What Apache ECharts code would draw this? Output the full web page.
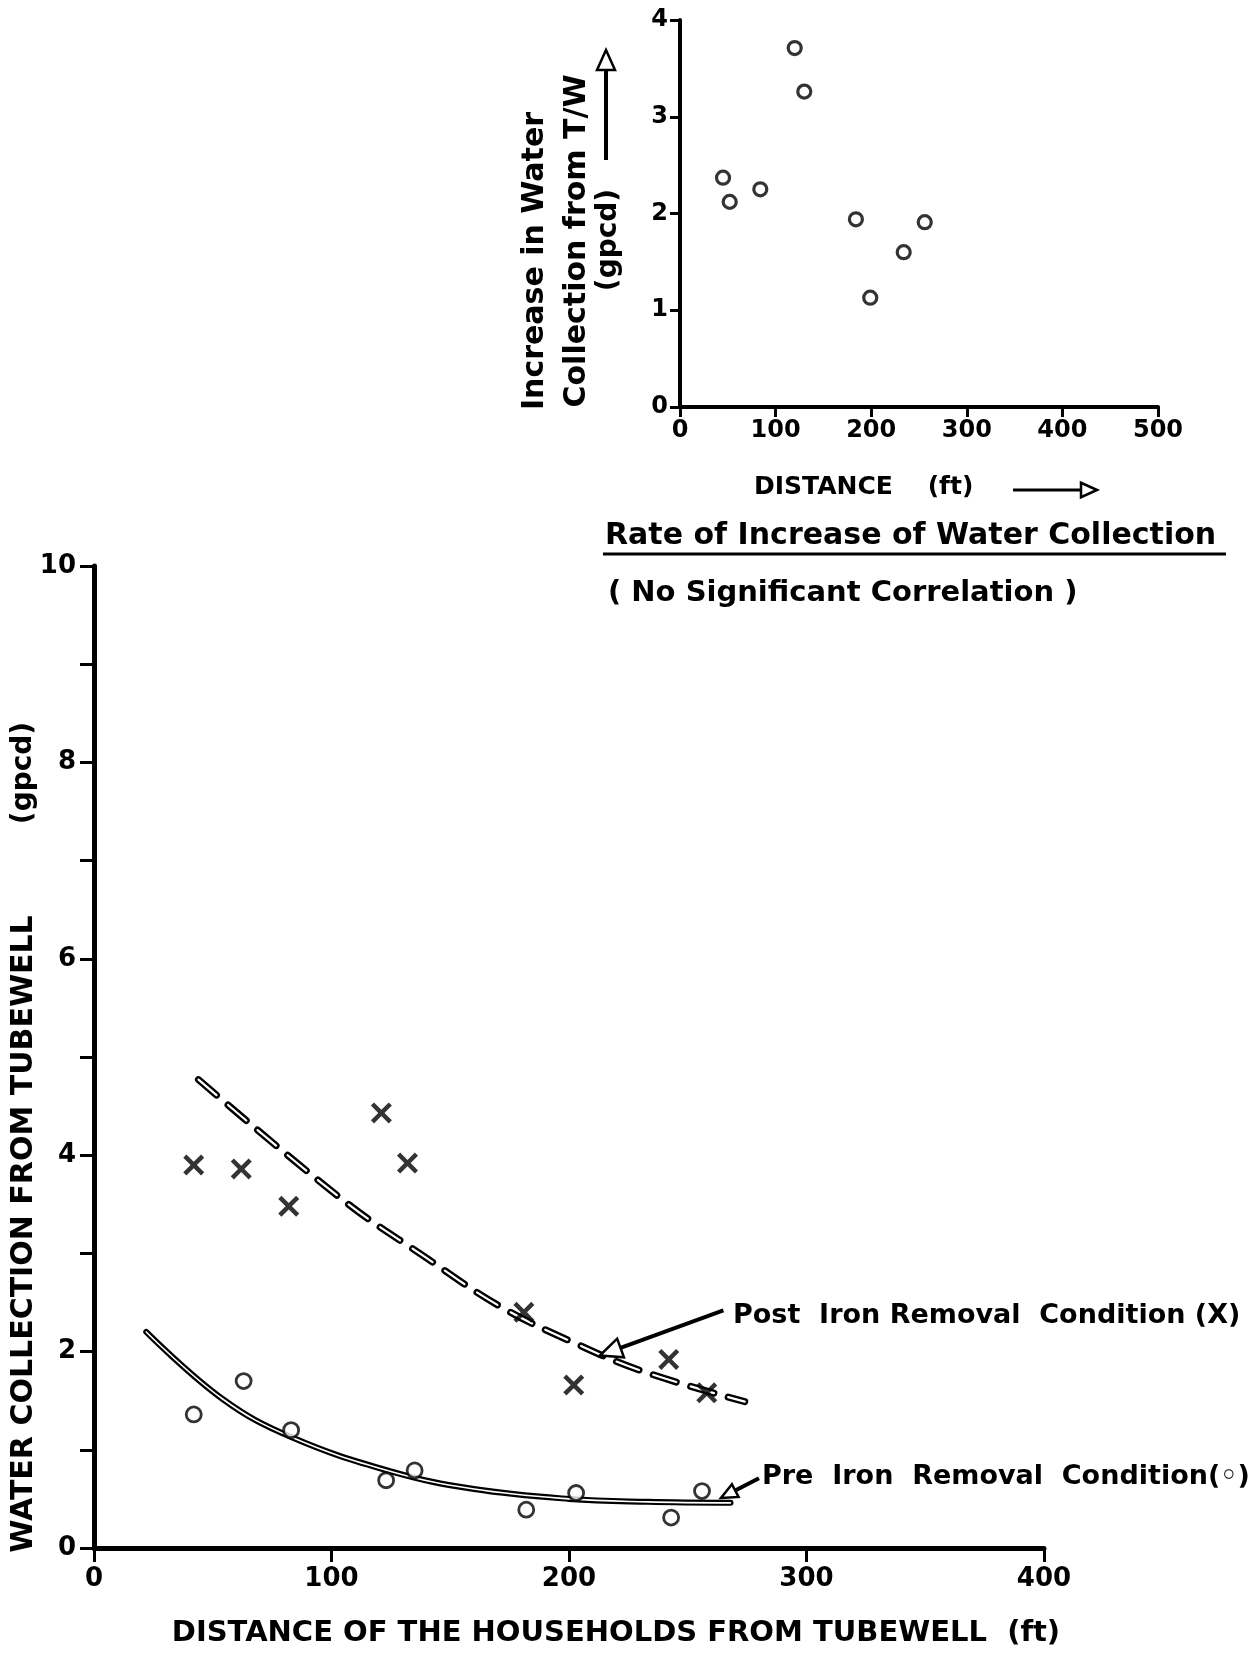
<!DOCTYPE html>
<html><head><meta charset="utf-8">
<script src="https://cdn.jsdelivr.net/npm/echarts@6/dist/echarts.min.js"></script>
<style>html,body{margin:0;padding:0;background:#fff}#c{width:1249px;height:1654px}</style>
</head><body><div id="c"></div>
<script>
// ---- Main chart data (distance ft, water collection gpcd) ----
const postX = [42, 62, 82, 121, 132, 181, 202, 242, 258];
const postY = [3.90, 3.86, 3.48, 4.43, 3.92, 2.40, 1.66, 1.92, 1.58];
const preX  = [42, 63, 83, 123, 135, 182, 203, 243, 256];
const preY  = [1.36, 1.70, 1.20, 0.69, 0.79, 0.39, 0.56, 0.31, 0.58];
const postFitX = [44, 105, 139, 171, 203, 231, 274];
const postFitY = [4.77, 3.54, 2.97, 2.46, 2.08, 1.80, 1.49];
const preFitX  = [22, 54, 83, 125, 160, 200, 233, 268];
const preFitY  = [2.20, 1.52, 1.13, 0.78, 0.60, 0.50, 0.47, 0.46];
// ---- Inset data (rate of increase) ----
const incX = [45, 52, 84, 120, 130, 184, 199, 234, 256];
const incY = [2.37, 2.12, 2.25, 3.71, 3.26, 1.94, 1.13, 1.60, 1.91];
// ---- tick labels ----
const mainXTicks = [0, 100, 200, 300, 400];
const mainYTicks = [0, 2, 4, 6, 8, 10];
const insetXTicks = [0, 100, 200, 300, 400, 500];
const insetYTicks = [0, 1, 2, 3, 4];
// ---- texts ----
const mainYTitle = 'WATER COLLECTION FROM TUBEWELL';
const mainYUnit = '(gpcd)';
const mainXTitle = 'DISTANCE OF THE HOUSEHOLDS FROM TUBEWELL  (ft)';
const insetTitle = 'Rate of Increase of Water Collection';
const insetSub = '( No Significant Correlation )';
const insetXName = 'DISTANCE    (ft)';
const insetYLines = ['Increase in Water', 'Collection from T/W', '(gpcd)'];
const postLabel = 'Post  Iron Removal  Condition (X)';
const preLabel = 'Pre  Iron  Removal  Condition(\u25E6)';

const zip = (a, b) => a.map((v, i) => [v, b[i]]);
const FF = 'DejaVu Sans';
const chart = echarts.init(document.getElementById('c'), null, {renderer: 'canvas'});
const xMark = 'path://M3,0 L10,7 L17,0 L20,3 L13,10 L20,17 L17,20 L10,13 L3,20 L0,17 L7,10 L0,3 Z';

const axisCommon = (w) => ({
  splitLine: {show: false},
  axisLine: {show: true, onZero: false, lineStyle: {color: '#000', width: w}},
  axisTick: {show: true, inside: false, lineStyle: {color: '#000', width: 3}},
});

chart.setOption({
  backgroundColor: '#fff',
  animation: false,
  grid: [
    {left: 94, top: 566, width: 950, height: 982},
    {left: 680, top: 20, width: 478, height: 387}
  ],
  xAxis: [
    Object.assign(axisCommon(5), {gridIndex: 0, type: 'value', min: 0, max: 400, interval: 100,
      axisTick: {length: 14, lineStyle: {color: '#000', width: 3}},
      axisLabel: {fontFamily: FF, fontWeight: 'bold', fontSize: 26, color: '#000', margin: 18,
        formatter: v => mainXTicks.includes(v) ? String(v) : ''}}),
    Object.assign(axisCommon(4), {gridIndex: 1, type: 'value', min: 0, max: 500, interval: 100,
      axisTick: {length: 10, lineStyle: {color: '#000', width: 3}},
      axisLabel: {fontFamily: FF, fontWeight: 'bold', fontSize: 24, color: '#000', margin: 12,
        formatter: v => insetXTicks.includes(v) ? String(v) : ''}})
  ],
  yAxis: [
    Object.assign(axisCommon(5), {gridIndex: 0, type: 'value', min: 0, max: 10, interval: 1,
      axisTick: {length: 14, lineStyle: {color: '#000', width: 3}},
      axisLabel: {fontFamily: FF, fontWeight: 'bold', fontSize: 26, color: '#000', margin: 18,
        formatter: v => mainYTicks.includes(v) ? String(v) : ''}}),
    Object.assign(axisCommon(4), {gridIndex: 1, type: 'value', min: 0, max: 4, interval: 1,
      axisTick: {length: 10, lineStyle: {color: '#000', width: 3}},
      axisLabel: {fontFamily: FF, fontWeight: 'bold', fontSize: 24, color: '#000', margin: 12,
        formatter: v => insetYTicks.includes(v) ? String(v) : ''}})
  ],
  series: [
    {type: 'line', xAxisIndex: 0, yAxisIndex: 0, data: zip(postFitX, postFitY), smooth: 0.4,
      showSymbol: false, z: 2, lineStyle: {color: '#000', width: 7, type: [24, 15], cap: 'round'}},
    {type: 'line', xAxisIndex: 0, yAxisIndex: 0, data: zip(postFitX, postFitY), smooth: 0.4,
      showSymbol: false, z: 3, lineStyle: {color: '#fff', width: 2.2, type: [24, 15], cap: 'round'}},
    {type: 'line', xAxisIndex: 0, yAxisIndex: 0, data: zip(preFitX, preFitY), smooth: 0.4,
      showSymbol: false, z: 2, lineStyle: {color: '#000', width: 6, cap: 'round'}},
    {type: 'line', xAxisIndex: 0, yAxisIndex: 0, data: zip(preFitX, preFitY), smooth: 0.4,
      showSymbol: false, z: 3, lineStyle: {color: '#fff', width: 1.6, cap: 'round'}},
    {type: 'scatter', xAxisIndex: 0, yAxisIndex: 0, data: zip(postX, postY), symbol: xMark,
      symbolSize: 21, z: 5, itemStyle: {color: '#000'}},
    {type: 'scatter', xAxisIndex: 0, yAxisIndex: 0, data: zip(preX, preY), symbol: 'circle',
      symbolSize: 15, z: 5, itemStyle: {color: '#fff', borderColor: '#000', borderWidth: 2.8}},
    {type: 'scatter', xAxisIndex: 1, yAxisIndex: 1, data: zip(incX, incY), symbol: 'circle',
      symbolSize: 13, z: 5, itemStyle: {color: '#fff', borderColor: '#000', borderWidth: 3.2}}
  ]
});

function arrow(from, to, w, head) {
  const a = chart.convertToPixel({gridIndex: 0}, from);
  const b = chart.convertToPixel({gridIndex: 0}, to);
  return arrowPx(a, b, w, head);
}
function arrowPx(a, b, w, head) {
  const ang = Math.atan2(b[1] - a[1], b[0] - a[0]);
  const hl = head, hw = head * 0.45;
  const bx = b[0] - hl * Math.cos(ang), by = b[1] - hl * Math.sin(ang);
  const p1 = [bx + hw * Math.sin(ang), by - hw * Math.cos(ang)];
  const p2 = [bx - hw * Math.sin(ang), by + hw * Math.cos(ang)];
  return [
    {type: 'line', shape: {x1: a[0], y1: a[1], x2: bx, y2: by}, style: {stroke: '#000', lineWidth: w}, z: 10},
    {type: 'polygon', shape: {points: [b, p1, p2]}, style: {fill: '#fff', stroke: '#000', lineWidth: 2.5}, z: 10}
  ];
}
const txt = (text, x, y, size, opts) => Object.assign({
  type: 'text', x: x, y: y, z: 10,
  style: Object.assign({text: text, font: 'bold ' + size + 'px "' + FF + '"', fill: '#000',
    align: 'left', verticalAlign: 'middle'}, (opts && opts.style) || {})
}, (opts && opts.el) || {});

const g = [];
g.push(txt(mainYTitle, 24, 1234, 30, {style: {align: 'center'}, el: {rotation: Math.PI / 2}}));
g.push(txt(mainYUnit, 24, 773, 28, {style: {align: 'center'}, el: {rotation: Math.PI / 2}}));
g.push(txt(mainXTitle, 616, 1633, 29, {style: {align: 'center'}}));
g.push(txt(insetTitle, 605, 536, 30));
g.push({type: 'line', shape: {x1: 603, y1: 554, x2: 1226, y2: 554}, style: {stroke: '#000', lineWidth: 3}, z: 10});
g.push(txt(insetSub, 608, 593, 29));
g.push(txt(insetXName, 754, 487, 25));
g.push(...arrowPx([1013, 490], [1097, 490], 3, 16));
g.push(txt(insetYLines[0], 535, 261, 30, {style: {align: 'center'}, el: {rotation: Math.PI / 2}}));
g.push(txt(insetYLines[1], 577, 241, 30, {style: {align: 'center'}, el: {rotation: Math.PI / 2}}));
g.push(txt(insetYLines[2], 609, 240, 28, {style: {align: 'center'}, el: {rotation: Math.PI / 2}}));
g.push(...arrowPx([606, 160], [606, 50], 4, 20));
g.push(txt(postLabel, 733, 1316, 27));
g.push(...arrow([265, 2.42], [213, 1.96], 4, 22));
g.push(txt(preLabel, 762, 1477, 27));
g.push(...arrow([280, 0.71], [264, 0.51], 4, 16));
chart.setOption({graphic: g});
</script></body></html>
